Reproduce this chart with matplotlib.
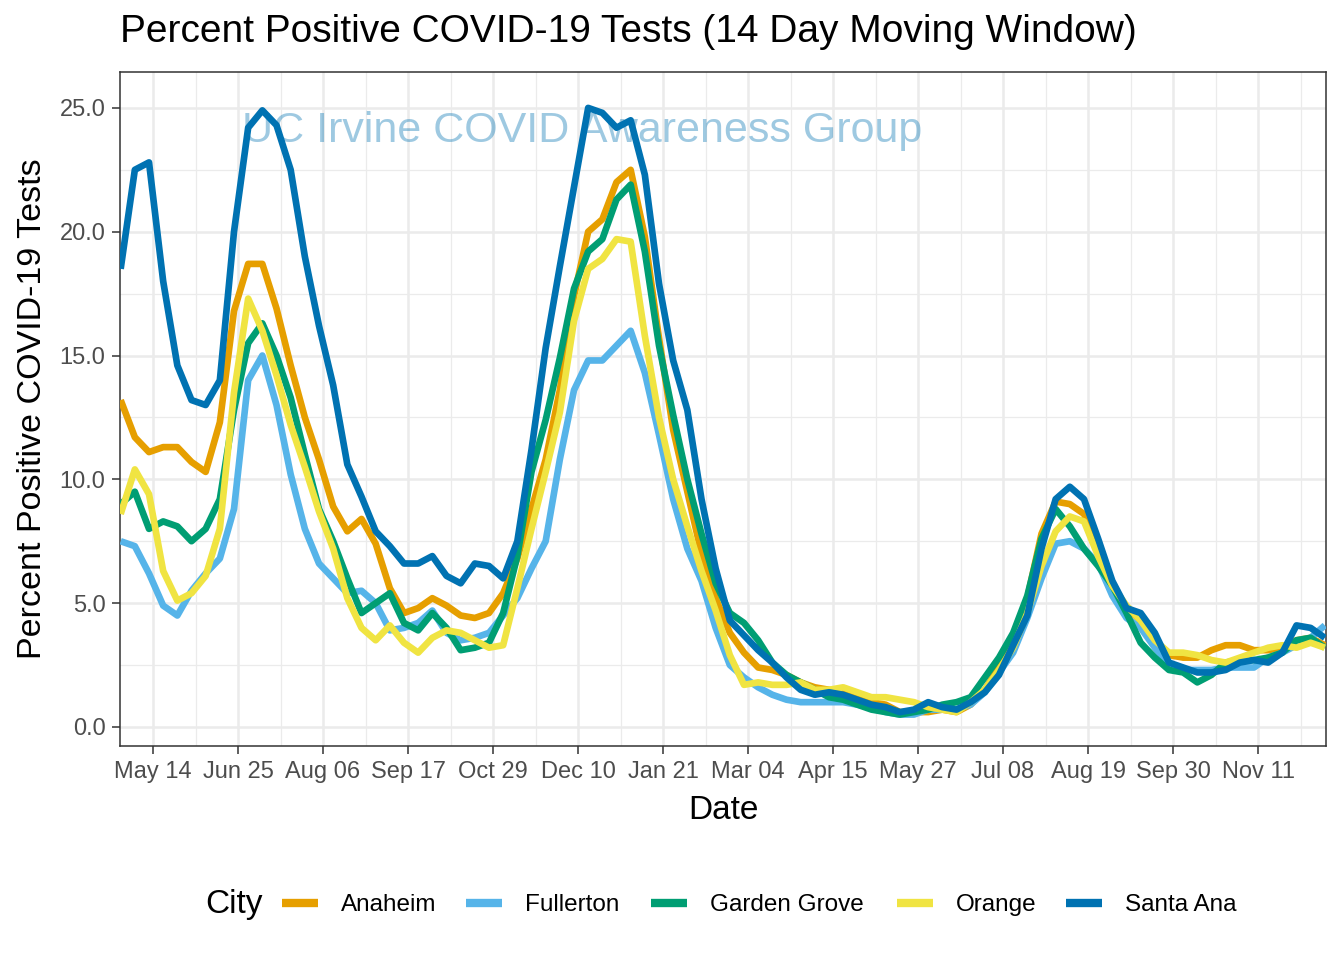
"""Percent positive COVID-19 tests, 14 day moving window, five Orange County cities."""

import matplotlib
matplotlib.use("Agg")
import matplotlib.pyplot as plt
import matplotlib.dates as mdates
import pandas as pd
from matplotlib.lines import Line2D

plt.rcParams["font.family"] = ["Liberation Sans", "DejaVu Sans"]

# weekly samples, 2020-04-28 .. 2021-12-14
dates = pd.date_range("2020-04-28", periods=86, freq="7D")

anaheim = [
    13.2, 11.7, 11.1, 11.3, 11.3, 10.7, 10.3, 12.3, 16.8, 18.7,
    18.7, 16.9, 14.6, 12.5, 10.8, 8.9, 7.9, 8.4, 7.4, 5.6,
    4.6, 4.8, 5.2, 4.9, 4.5, 4.4, 4.6, 5.4, 6.8, 8.8,
    10.8, 13.6, 17.4, 20.0, 20.5, 22.0, 22.5, 19.8, 15.7, 12.0,
    9.5, 7.0, 5.2, 3.8, 3.0, 2.4, 2.3, 2.1, 1.8, 1.6,
    1.5, 1.4, 1.2, 1.0, 0.9, 0.6, 0.6, 0.6, 0.7, 0.6,
    0.9, 1.5, 2.4, 3.4, 5.2, 7.8, 9.1, 9.0, 8.6, 7.4,
    5.8, 4.8, 4.3, 3.4, 2.9, 2.8, 2.8, 3.1, 3.3, 3.3,
    3.1, 3.1, 3.2, 3.5, 3.6, 3.3,
]
fullerton = [
    7.5, 7.3, 6.2, 4.9, 4.5, 5.5, 6.2, 6.8, 8.8, 14.0,
    15.0, 13.0, 10.2, 8.0, 6.6, 6.0, 5.4, 5.5, 5.0, 3.9,
    4.0, 4.2, 4.7, 3.8, 3.5, 3.6, 3.8, 4.5, 5.2, 6.4,
    7.5, 10.8, 13.6, 14.8, 14.8, 15.4, 16.0, 14.3, 11.8, 9.2,
    7.2, 5.9, 4.0, 2.5, 2.0, 1.6, 1.3, 1.1, 1.0, 1.0,
    1.0, 1.0, 0.9, 0.8, 0.6, 0.5, 0.5, 0.7, 0.7, 0.7,
    0.9, 1.4, 2.2, 3.0, 4.4, 6.0, 7.4, 7.5, 7.2, 6.6,
    5.3, 4.4, 4.0, 3.2, 2.5, 2.3, 2.3, 2.3, 2.4, 2.4,
    2.4, 2.8, 3.0, 3.3, 3.6, 4.1,
]
garden_grove = [
    9.0, 9.5, 8.0, 8.3, 8.1, 7.5, 8.0, 9.2, 12.8, 15.5,
    16.3, 15.0, 13.3, 11.0, 8.8, 7.5, 6.0, 4.6, 5.0, 5.4,
    4.2, 3.9, 4.6, 4.0, 3.1, 3.2, 3.4, 4.6, 6.9, 10.3,
    12.4, 14.9, 17.7, 19.2, 19.7, 21.3, 21.9, 19.2, 15.4, 12.6,
    10.0, 7.8, 5.8, 4.6, 4.2, 3.5, 2.6, 2.1, 1.8, 1.5,
    1.2, 1.1, 0.9, 0.7, 0.6, 0.5, 0.6, 0.7, 0.9, 1.0,
    1.2, 2.0, 2.8, 3.8, 5.3, 7.6, 8.8, 8.1, 7.2, 6.5,
    5.7, 4.6, 3.4, 2.8, 2.3, 2.2, 1.8, 2.1, 2.6, 2.7,
    2.7, 2.8, 3.0, 3.5, 3.6, 3.2,
]
orange = [
    8.6, 10.4, 9.4, 6.3, 5.1, 5.4, 6.1, 8.0, 13.5, 17.3,
    16.0, 14.2, 12.2, 10.5, 8.7, 7.2, 5.2, 4.0, 3.5, 4.1,
    3.4, 3.0, 3.6, 3.9, 3.8, 3.5, 3.2, 3.3, 5.6, 8.0,
    10.3, 12.7, 16.4, 18.5, 18.9, 19.7, 19.6, 15.8, 12.5, 10.0,
    8.1, 6.3, 4.7, 2.9, 1.7, 1.8, 1.7, 1.7, 1.8, 1.5,
    1.5, 1.6, 1.4, 1.2, 1.2, 1.1, 1.0, 0.8, 0.7, 0.6,
    1.0, 1.5, 2.3, 3.2, 4.6, 6.5, 7.9, 8.5, 8.3, 6.9,
    5.7, 4.9, 4.3, 3.5, 3.0, 3.0, 2.9, 2.7, 2.6, 2.8,
    3.0, 3.2, 3.3, 3.2, 3.4, 3.2,
]
santa_ana = [
    18.5, 22.5, 22.8, 18.0, 14.6, 13.2, 13.0, 14.0, 20.0, 24.2,
    24.9, 24.3, 22.5, 19.0, 16.2, 13.8, 10.6, 9.3, 7.9, 7.3,
    6.6, 6.6, 6.9, 6.1, 5.8, 6.6, 6.5, 6.0, 7.5, 11.2,
    15.3, 18.6, 21.8, 25.0, 24.8, 24.2, 24.5, 22.3, 17.9, 14.8,
    12.8, 9.2, 6.4, 4.3, 3.7, 3.1, 2.6, 2.0, 1.5, 1.3,
    1.4, 1.3, 1.1, 0.9, 0.8, 0.6, 0.7, 1.0, 0.8, 0.7,
    1.0, 1.4, 2.1, 3.3, 4.5, 7.2, 9.2, 9.7, 9.2, 7.6,
    5.9, 4.8, 4.6, 3.8, 2.6, 2.4, 2.2, 2.2, 2.3, 2.6,
    2.7, 2.6, 3.0, 4.1, 4.0, 3.6,
]

cities = ["Anaheim", "Fullerton", "Garden Grove", "Orange", "Santa Ana"]
series = [anaheim, fullerton, garden_grove, orange, santa_ana]
colors = ["#E69F00", "#56B4E9", "#009E73", "#F0E442", "#0072B2"]

major_dates = pd.date_range("2020-05-14", "2021-11-11", freq="42D")
minor_dates = pd.date_range("2020-06-04", "2021-12-02", freq="42D")

fig = plt.figure(figsize=(13.44, 9.6), dpi=100)
ax = fig.add_axes([120 / 1344, 1 - 746 / 960, 1206 / 1344, 674 / 960])

for vals, c in zip(series, colors):
    ax.plot(dates, vals, color=c, linewidth=4.8, solid_joinstyle="round",
            solid_capstyle="butt", zorder=3)

ax.text(0.383, 0.913, "UC Irvine COVID Awareness Group", transform=ax.transAxes,
        ha="center", va="center", fontsize=31, color="#0072B2", alpha=0.38,
        zorder=2)

ax.set_xticks(major_dates)
ax.xaxis.set_major_formatter(mdates.DateFormatter("%b %d"))
ax.set_xticks(minor_dates, minor=True)
ax.set_yticks([0, 5, 10, 15, 20, 25])
ax.set_yticklabels(["0.0", "5.0", "10.0", "15.0", "20.0", "25.0"])
ax.set_yticks([2.5, 7.5, 12.5, 17.5, 22.5], minor=True)
ax.set_xlim(pd.Timestamp("2020-04-27 16:00"), pd.Timestamp("2021-12-14 14:00"))
ax.set_ylim(-0.77, 26.45)

ax.grid(which="major", color="#EBEBEB", linewidth=1.8, zorder=0)
ax.grid(which="minor", color="#EBEBEB", linewidth=0.9, zorder=0)
ax.set_axisbelow(True)
for s in ax.spines.values():
    s.set_color("#333333")
    s.set_linewidth(1.1)
ax.tick_params(which="major", length=5.5, width=1.1, color="#333333",
               labelcolor="#4D4D4D", labelsize=17, pad=5)
ax.tick_params(which="minor", length=0)

ax.set_xlabel("Date", fontsize=24, labelpad=9)
ax.set_ylabel("Percent Positive COVID-19 Tests", fontsize=24.5, labelpad=8)

fig.text(120 / 1344, 1 - 32 / 960,
         "Percent Positive COVID-19 Tests (14 Day Moving Window)",
         fontsize=28, ha="left", va="center")

# legend: "City" title on the left, one entry per city laid out in a row
legend_y = 1 - 905 / 960
fig.text(205 / 1344, legend_y, "City", fontsize=24, ha="left", va="center")
key_left = [282, 466, 651, 897, 1066]
for city, c, xk in zip(cities, colors, key_left):
    h = Line2D([], [], color=c, linewidth=6, solid_capstyle="butt")
    fig.legend([h], [city], loc="center left",
               bbox_to_anchor=(xk / 1344, legend_y), frameon=False,
               fontsize=17.5, handlelength=1.48, handletextpad=0.95,
               borderpad=0, borderaxespad=0)

fig.savefig("out.png", dpi=100)
